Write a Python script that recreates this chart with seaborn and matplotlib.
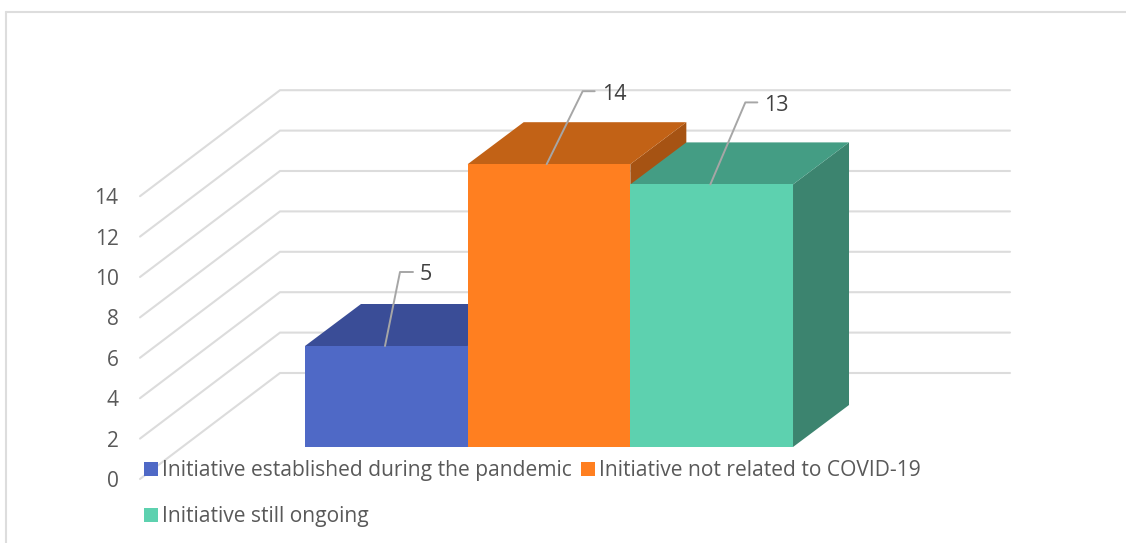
import matplotlib
matplotlib.use("Agg")
import matplotlib.pyplot as plt
from matplotlib.lines import Line2D
from matplotlib.patches import Polygon, Patch
import seaborn as sns

# Chart data
categories = ["Initiative established during the pandemic",
              "Initiative not related to COVID-19",
              "Initiative still ongoing"]
counts = [5, 14, 13]
axis_ticks = [0, 2, 4, 6, 8, 10, 12, 14]

front_colors = ["#4F69C6", "#FF7F20", "#5DD1AF"]
top_colors = ["#3A4D97", "#C26216", "#449D84"]
side_colors = ["#33437F", "#A65313", "#3C846F"]

# Canvas scale: pixels per category and per count, and the chart origin
W, H = 1126, 543
PX_CAT = 162.67
PX_VAL = 20.2
X0_PX = 305
Y0_PX = 447

# Oblique projection offsets, in pixels
DEPTH_X, DEPTH_Y = 56, 42
WALL_X, WALL_Y = 140, 106

sns.set_theme(style="white")
plt.rcParams["font.family"] = ["Open Sans", "DejaVu Sans"]


def dx(px):
    return px / PX_CAT


def dy(px):
    return px / PX_VAL


def col_x(px):
    return -0.5 + (px - X0_PX) / PX_CAT


def val_y(px):
    return (Y0_PX - px) / PX_VAL


fig = plt.figure(figsize=(W / 100, H / 100), dpi=100)
ax = fig.add_axes([0, 0, 1, 1])

sns.barplot(x=categories, y=counts, hue=categories, palette=front_colors,
            width=1, saturation=1, dodge=False, legend=False, ax=ax)
ax.set_xlim(col_x(0), col_x(W))
ax.set_ylim(val_y(H), val_y(0))
ax.axis("off")

# Back wall and side wall gridlines
GRID = "#DCDCDC"
back_base = 373
for t in axis_ticks:
    yb = val_y(back_base) + t
    xl, xb, xr = col_x(140), col_x(280), col_x(1010)
    ax.plot([xl, xb, xr], [yb - dy(WALL_Y), yb, yb], color=GRID, lw=1.5,
            solid_joinstyle="miter", zorder=0.5)
    ax.text(col_x(118.5), yb - dy(WALL_Y + 2.5), str(t), ha="right", va="center",
            fontsize=15, color="#595959")

# Extruded faces of each column
for i, (bar, v) in enumerate(zip(ax.patches, counts)):
    left, right = i - 0.5, i + 0.5
    bar.set_zorder(3 + 2 * i)
    bar.set_linewidth(0)
    ddx, ddy = dx(DEPTH_X), dy(DEPTH_Y)
    top = Polygon([(left, v), (left + ddx, v + ddy), (right + ddx, v + ddy), (right, v)],
                  closed=True, fc=top_colors[i], ec="none", zorder=2 + 2 * i)
    side = Polygon([(right, v), (right + ddx, v + ddy), (right + ddx, ddy), (right, 0)],
                   closed=True, fc=side_colors[i], ec="none", zorder=2 + 2 * i)
    ax.add_patch(side)
    ax.add_patch(top)

# Data labels with bent leader lines
leaders = [((80, 0), (95, 74), (108, 74)),
           ((79, 0), (115, 73), (127, 73)),
           ((80, 0), (115, 82), (127, 82))]
label_gap = 7
label_drop = 3
for i, v in enumerate(counts):
    pts = leaders[i]
    xs = [i - 0.5 + dx(p[0]) for p in pts]
    ys = [v + dy(p[1]) for p in pts]
    ax.plot(xs, ys, color="#A6A6A6", lw=1.4, zorder=20)
    ax.text(xs[-1] + dx(label_gap), ys[-1] - dy(label_drop), str(v), ha="left", va="center",
            fontsize=15.5, color="#404040", zorder=21)

# Legend: column-wise filling gives the two-row arrangement
handles = [Patch(fc=front_colors[i], ec="none") for i in (0, 2, 1)]
labels = [categories[i] for i in (0, 2, 1)]
ax.legend(handles, labels, ncol=2, frameon=False, fontsize=15.1,
          labelcolor="#595959", loc="upper left",
          bbox_to_anchor=(144 / W, 1 - 460 / H), bbox_transform=fig.transFigure,
          borderaxespad=0, borderpad=0, handlelength=0.667, handleheight=0.667,
          handletextpad=0.2, labelspacing=1.2, columnspacing=0.43)

# Chart area border: only the top and left edges fall inside the canvas
FRAME = "#DDDDDD"
fig.add_artist(Line2D([6 / W, 1], [1 - 12 / H, 1 - 12 / H], color=FRAME, lw=1.5,
                      transform=fig.transFigure))
fig.add_artist(Line2D([6 / W, 6 / W], [0, 1 - 12 / H], color=FRAME, lw=1.5,
                      transform=fig.transFigure))

fig.savefig("out.png", dpi=100, facecolor="white")
